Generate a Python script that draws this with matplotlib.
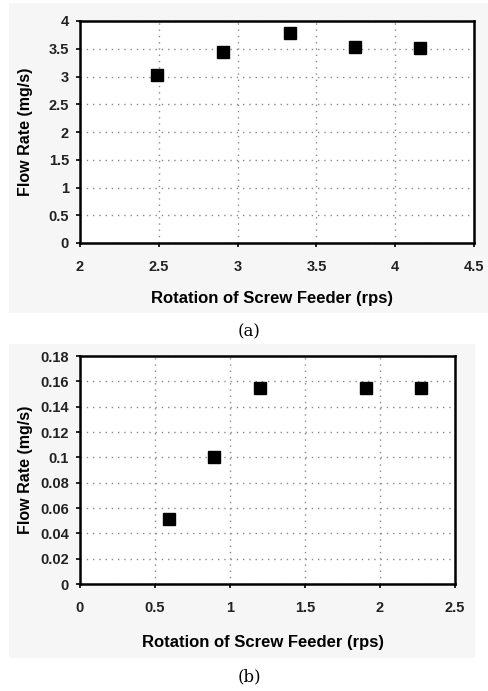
import matplotlib.pyplot as plt
from matplotlib.patches import Rectangle

plt.rcParams['font.family'] = ['Liberation Sans', 'DejaVu Sans']

# panel (a)
rot_a = [2.49, 2.905, 3.33, 3.745, 4.16]
flow_a = [3.02, 3.44, 3.79, 3.53, 3.51]
xticks_a = [2, 2.5, 3, 3.5, 4, 4.5]
yticks_a = [0, 0.5, 1, 1.5, 2, 2.5, 3, 3.5, 4]

# panel (b)
rot_b = [0.596, 0.896, 1.2, 1.907, 2.273]
flow_b = [0.0515, 0.100, 0.155, 0.155, 0.155]
xticks_b = [0, 0.5, 1, 1.5, 2, 2.5]
yticks_b = [0, 0.02, 0.04, 0.06, 0.08, 0.1, 0.12, 0.14, 0.16, 0.18]

W, H = 489, 691
fig = plt.figure(figsize=(W / 100, H / 100), dpi=100)
fig.patch.set_facecolor('white')


def px_rect(x0, y0, x1, y1):
    # pixel box (top-left origin) -> figure fraction [l, b, w, h]
    return [x0 / W, 1 - y1 / H, (x1 - x0) / W, (y1 - y0) / H]


# light grey chart areas behind each panel
for box in [(9, 3, 488, 313), (9, 344, 475, 658)]:
    l, b, w, h = px_rect(*box)
    fig.patches.append(Rectangle((l, b), w, h, transform=fig.transFigure,
                                 facecolor='#f6f6f6', edgecolor='none', zorder=-5))


def panel(rect, xs, ys, xticks, yticks, xlab_y, caption, cap_y):
    ax = fig.add_axes(px_rect(*rect))
    ax.set_zorder(2)
    ax.set_facecolor('white')
    ax.plot(xs, ys, 's', color='black', markersize=8.5, zorder=3)
    ax.set_xlim(xticks[0], xticks[-1])
    ax.set_ylim(yticks[0], yticks[-1])
    ax.set_xticks(xticks)
    ax.set_yticks(yticks)
    ax.set_xticklabels(['%g' % v for v in xticks], fontsize=10.5, fontweight='bold', color='#222222')
    ax.set_yticklabels(['%g' % v for v in yticks], fontsize=10.5, fontweight='bold', color='#222222')
    ax.grid(True, linestyle=(0, (1, 3.5)), color='#8a8a8a', linewidth=1.0)
    ax.tick_params(axis='y', direction='out', length=3, width=1.2, pad=5)
    ax.tick_params(axis='x', direction='out', length=3, width=1.2, pad=9)
    for s in ax.spines.values():
        s.set_linewidth(1.8)
    ax.set_ylabel('Flow Rate (mg/s)', fontsize=11.5, fontweight='bold')
    ax.yaxis.set_label_coords((33 - rect[0]) / (rect[2] - rect[0]), 0.5)
    fig.text(((rect[0] + rect[2]) / 2 - 5) / W, 1 - xlab_y / H, 'Rotation of Screw Feeder (rps)',
             ha='center', va='center', fontsize=12, fontweight='bold')
    fig.text(249 / W, 1 - cap_y / H, caption, ha='center', va='center', fontsize=12,
             family=['DejaVu Serif'])
    return ax


panel((80, 21, 474, 243), rot_a, flow_a, xticks_a, yticks_a, 299, '(a)', 332)
panel((80, 356, 455, 584), rot_b, flow_b, xticks_b, yticks_b, 642, '(b)', 677)

plt.savefig('out.png', dpi=100)
